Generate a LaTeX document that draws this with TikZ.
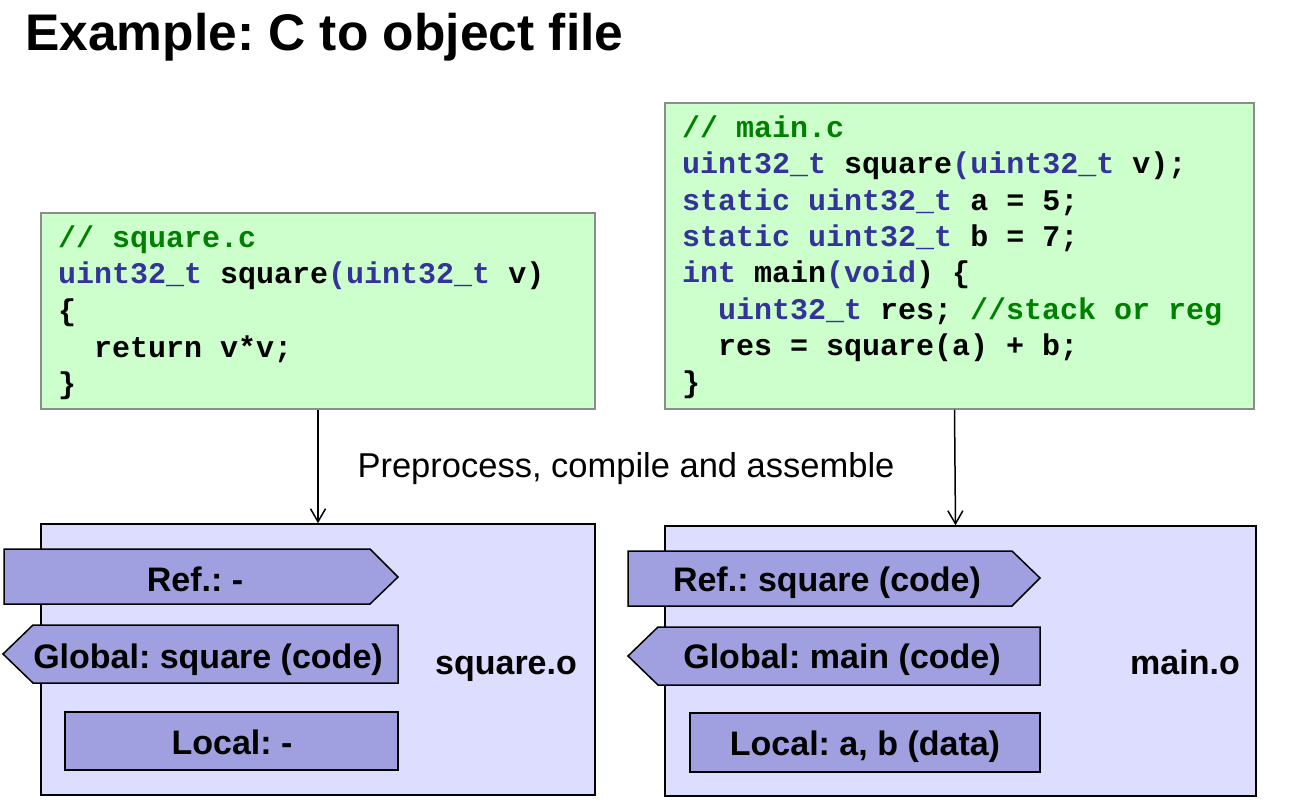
\documentclass[tikz,border=0pt]{standalone}
\usepackage{fontspec}
\setmainfont{Liberation Sans}
\newfontfamily\codefont{Liberation Mono}
\usetikzlibrary{arrows.meta}
\definecolor{kwblue}{RGB}{51,51,153}
\definecolor{cmgreen}{RGB}{0,128,0}
\definecolor{codefill}{RGB}{204,255,204}
\definecolor{codeline}{RGB}{140,140,140}
\definecolor{objfill}{RGB}{221,221,255}
\definecolor{tagfill}{RGB}{160,160,224}
\newcommand\kwd[1]{\textcolor{kwblue}{#1}}
\newcommand\cmt[1]{\textcolor{cmgreen}{#1}}
\newcommand\ind{\hspace*{36pt}}
\tikzset{
  codebox/.style={draw=codeline, fill=codefill, line width=1.5pt, inner sep=0pt},
  objbox/.style={draw=black, fill=objfill, line width=1.5pt, inner sep=0pt},
  tagshape/.style={draw=black, fill=tagfill, line width=1.5pt},
  tagtext/.style={anchor=base, font=\frenchspacing\bfseries\fontsize{34}{40}\selectfont, inner sep=0pt},
  codeln/.style={anchor=base west, inner sep=0pt, font=\frenchspacing\codefont\bfseries\fontsize{30}{36}\selectfont},
  flow/.style={draw=black, line width=1.5pt, -{Straight Barb[length=13pt,width=15pt,line width=1.5pt]}}
}
\begin{document}
\frenchspacing
\begin{tikzpicture}[x=1pt,y=-1pt]
\useasboundingbox (0,0) rectangle (1296,802);
% title
\node[anchor=base west, inner sep=0pt, font=\frenchspacing\bfseries\fontsize{51.5}{60}\selectfont] (title) at (25,51) {Example: C to object file};
% code boxes
\node[codebox, minimum width=554pt, minimum height=196pt] (sqc) at (318,311) {};
\node[codebox, minimum width=589pt, minimum height=306pt] (mainc) at (959.5,256) {};
% square.c code
\node[codeln] (s1) at (58,247.5) {\cmt{// square.c}};
\node[codeln] (s2) at (58,284) {\kwd{uint32\_t} square\kwd{(uint32\_t} v)};
\node[codeln] (s3) at (58,320.5) {\{};
\node[codeln] (s4) at (58,357) {\ind return v*v;};
\node[codeln] (s5) at (58,393) {\}};
% main.c code
\node[codeln] (m1) at (682,137.5) {\cmt{// main.c}};
\node[codeln] (m2) at (682,174) {\kwd{uint32\_t} square\kwd{(uint32\_t} v);};
\node[codeln] (m3) at (682,210.5) {\kwd{static uint32\_t} a = 5;};
\node[codeln] (m4) at (682,246.5) {\kwd{static uint32\_t} b = 7;};
\node[codeln] (m5) at (682,283) {\kwd{int} main\kwd{(void}) \{};
\node[codeln] (m6) at (682,319.5) {\ind\kwd{uint32\_t} res; \cmt{//stack or reg}};
\node[codeln] (m7) at (682,355.5) {\ind res = square(a) + b;};
\node[codeln] (m8) at (682,392) {\}};
% object boxes
\node[objbox, minimum width=554pt, minimum height=271pt] (sqo) at (318,659.5) {};
\node[objbox, minimum width=591pt, minimum height=270pt] (maino) at (960.5,661) {};
% arrows
\draw[flow] (sqc.south) -- (sqo.north);
\draw[flow] ([xshift=-5pt]mainc.south) -- ([xshift=-5pt]maino.north);
\node[anchor=base, font=\frenchspacing\fontsize{34.5}{40}\selectfont, inner sep=0pt] (step) at (626,477) {Preprocess, compile and assemble};
% square.o tags
\draw[tagshape] (4,549) -- (370,549) -- (398,577) -- (370,604) -- (4,604) -- cycle;
\node[tagtext] (sref) at (195,591) {Ref.: -};
\draw[tagshape] (3,654) -- (33,625) -- (398,625) -- (398,683) -- (33,683) -- cycle;
\node[tagtext] (sglob) at (208,668) {Global: square (code)};
\draw[tagshape] (65,712) rectangle (398,770);
\node[tagtext] (sloc) at (232,754) {Local: -};
\node[tagtext] (sname) at (506,674) {square.o};
% main.o tags
\draw[tagshape] (628,551) -- (1012,551) -- (1040,578) -- (1012,606) -- (628,606) -- cycle;
\node[tagtext] (mref) at (827,591) {Ref.: square (code)};
\draw[tagshape] (628,656) -- (658,627) -- (1040,627) -- (1040,685) -- (658,685) -- cycle;
\node[tagtext] (mglob) at (842,668) {Global: main (code)};
\draw[tagshape] (690,713) rectangle (1040,772);
\node[tagtext] (mloc) at (865,755) {Local: a, b (data)};
\node[tagtext] (mname) at (1185,674) {main.o};
\end{tikzpicture}
\end{document}
